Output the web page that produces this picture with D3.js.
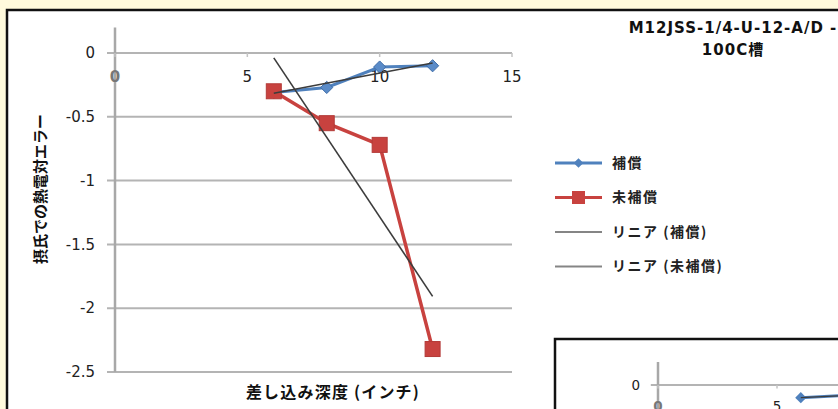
<!DOCTYPE html>
<meta charset="utf-8">
<script src="https://d3js.org/d3.v7.min.js"></script>
<style>
  body { margin: 0; background: #fffadc; }
  svg { display: block; }
</style>
<body>
<svg width="838" height="409"></svg>
<script>
// data
var depth = [6, 8, 10, 12];
var compensated = [-0.31, -0.27, -0.11, -0.10];
var uncompensated = [-0.30, -0.55, -0.72, -2.32];
var yTicks = [0, -0.5, -1, -1.5, -2, -2.5];
var xTicks = [0, 5, 10, 15];
var legendNames = ["補償", "未補償", "リニア (補償)", "リニア (未補償)"];
var titleLines = ["M12JSS-1/4-U-12-A/D -", "100C槽"];

// second chart, only its top-left corner shows
var insetDepth = [6, 8];
var insetComp = [-0.11, -0.09];
var insetYTicks = [0];
var insetXTicks = [0, 5];

var svg = d3.select("svg");
var blue = "#4f81bd", red = "#c8423f", trendCol = "#3c3c3c", grid = "#b4b4b4";
var diamond = d3.symbolDiamond2 || d3.symbolDiamond;

// outer frame
svg.append("rect").attr("x", 7).attr("y", 10).attr("width", 850).attr("height", 420)
  .attr("fill", "#fff").attr("stroke", "#111").attr("stroke-width", 2.5);

function fit(xs, ys) {
  var mx = d3.mean(xs), my = d3.mean(ys);
  var num = d3.sum(xs, function(x, i) { return (x - mx) * (ys[i] - my); });
  var den = d3.sum(xs, function(x) { return (x - mx) * (x - mx); });
  var b = num / den, a = my - b * mx;
  var x0 = d3.min(xs), x1 = d3.max(xs);
  return [[x0, a + b * x0], [x1, a + b * x1]];
}

function drawChart(g, opt) {
  var x = d3.scaleLinear().domain([0, 15]).range(opt.xr);
  var y = d3.scaleLinear().domain([-2.5, 0]).range(opt.yr);

  // gridlines
  g.selectAll(".grid").data(opt.yTicks).enter().append("line")
    .attr("x1", x(0) - opt.k * 8).attr("x2", x(15))
    .attr("y1", function(d) { return y(d); }).attr("y2", function(d) { return y(d); })
    .attr("stroke", grid).attr("stroke-width", 2);

  // vertical axis line
  g.append("line").attr("x1", x(0)).attr("x2", x(0))
    .attr("y1", y(0.2)).attr("y2", y(-2.5))
    .attr("stroke", "#a8a8a8").attr("stroke-width", 2.5);

  // x ticks on the zero line
  g.selectAll(".xt").data(opt.xTicks).enter().append("line")
    .attr("x1", function(d) { return x(d); }).attr("x2", function(d) { return x(d); })
    .attr("y1", y(0)).attr("y2", y(0) + 4 * opt.k)
    .attr("stroke", "#c4c4c4").attr("stroke-width", 1.5);

  g.selectAll(".xl").data(opt.xTicks).enter().append("text")
    .attr("x", function(d) { return x(d); }).attr("y", y(0) + 24 * opt.k)
    .attr("dy", "0.35em").attr("text-anchor", "middle")
    .attr("font-family", "DejaVu Sans").attr("font-size", 15 * opt.k)
    .attr("fill", function(d) { return d === 0 ? "#777" : "#222"; })
    .attr("font-weight", function(d) { return d === 0 ? "bold" : "normal"; })
    .text(function(d) { return d; });

  g.selectAll(".yl").data(opt.yTicks).enter().append("text")
    .attr("x", x(0) - 20 * opt.k).attr("y", function(d) { return y(d); })
    .attr("dy", "0.35em").attr("text-anchor", "end")
    .attr("font-family", "DejaVu Sans").attr("font-size", 15 * opt.k)
    .attr("fill", "#222")
    .text(function(d) { return d; });

  return {x: x, y: y};
}

// main chart
var main = svg.append("g");
var sc = drawChart(main, {xr: [115, 512], yr: [372, 53], k: 1, yTicks: yTicks, xTicks: xTicks});
var x = sc.x, y = sc.y;

var line = d3.line().x(function(d) { return x(d[0]); }).y(function(d) { return y(d[1]); });
var compPts = depth.map(function(d, i) { return [d, compensated[i]]; });
var uncPts = depth.map(function(d, i) { return [d, uncompensated[i]]; });

main.append("path").attr("d", line(compPts)).attr("fill", "none")
  .attr("stroke", blue).attr("stroke-width", 3);
main.selectAll(".dia").data(compPts).enter().append("path")
  .attr("d", d3.symbol().type(diamond).size(95))
  .attr("transform", function(d) { return "translate(" + x(d[0]) + "," + y(d[1]) + ")"; })
  .attr("fill", "#5a8bc8").attr("stroke", "#3d6ca8").attr("stroke-width", 1);

main.append("path").attr("d", line(uncPts)).attr("fill", "none")
  .attr("stroke", red).attr("stroke-width", 3.5);
main.selectAll(".sq").data(uncPts).enter().append("rect")
  .attr("x", function(d) { return x(d[0]) - 7.5; }).attr("y", function(d) { return y(d[1]) - 7.5; })
  .attr("width", 15).attr("height", 15)
  .attr("fill", red).attr("stroke", "#b33a37").attr("stroke-width", 1);

// linear trend lines
[fit(depth, compensated), fit(depth, uncompensated)].forEach(function(t) {
  main.append("path").attr("d", line(t)).attr("fill", "none")
    .attr("stroke", trendCol).attr("stroke-width", 1.6);
});

// axis titles
main.append("text").attr("transform", "translate(41," + 189 + ") rotate(-90)")
  .attr("text-anchor", "middle").attr("dy", "0.35em")
  .attr("font-family", "Noto Sans CJK JP").attr("font-weight", "bold").attr("font-size", 15)
  .attr("fill", "#111").text("摂氏での熱電対エラー");

main.append("text").attr("x", 333).attr("y", 392).attr("dy", "0.35em")
  .attr("text-anchor", "middle")
  .attr("font-family", "Noto Sans CJK JP").attr("font-weight", "bold").attr("font-size", 16)
  .attr("letter-spacing", 1.2)
  .attr("fill", "#111").text("差し込み深度 (インチ)");

// title
main.selectAll(".title").data(titleLines).enter().append("text")
  .attr("x", 733).attr("y", function(d, i) { return 28 + i * 22; }).attr("dy", "0.35em")
  .attr("text-anchor", "middle")
  .attr("font-family", "DejaVu Sans, Noto Sans CJK JP").attr("font-weight", "bold").attr("font-size", 15)
  .attr("letter-spacing", 1)
  .attr("fill", "#111").text(function(d) { return d; });

// legend
var lg = main.selectAll(".lg").data(legendNames).enter().append("g")
  .attr("transform", function(d, i) { return "translate(555," + (163 + i * 34.5) + ")"; });
lg.append("line").attr("x1", 0).attr("x2", 47)
  .attr("stroke", function(d, i) { return i === 0 ? blue : i === 1 ? red : "#858585"; })
  .attr("stroke-width", function(d, i) { return i < 2 ? 3 : 2; });
lg.filter(function(d, i) { return i === 0; }).append("path")
  .attr("transform", "translate(23.5,0)")
  .attr("d", d3.symbol().type(diamond).size(60)).attr("fill", blue);
lg.filter(function(d, i) { return i === 1; }).append("rect")
  .attr("x", 17).attr("y", -6.5).attr("width", 13).attr("height", 13).attr("fill", red);
lg.append("text").attr("x", 57).attr("dy", "0.35em")
  .attr("font-family", "Noto Sans CJK JP").attr("font-weight", "bold").attr("font-size", 14)
  .attr("letter-spacing", 1.5)
  .attr("fill", "#222").text(function(d) { return d; });

// inset chart frame
svg.append("rect").attr("x", 555).attr("y", 339).attr("width", 300).attr("height", 100)
  .attr("fill", "#fff").attr("stroke", "#111").attr("stroke-width", 2.5);
var inset = svg.append("g");
var isc = drawChart(inset, {xr: [658, 658 + 15 * 23.8], yr: [385 + 2.5 * 114.8, 385], k: 0.9,
  yTicks: insetYTicks, xTicks: insetXTicks});
var iline = d3.line().x(function(d) { return isc.x(d[0]); }).y(function(d) { return isc.y(d[1]); });
var insetPts = insetDepth.map(function(d, i) { return [d, insetComp[i]]; });
inset.append("path").attr("d", iline(insetPts)).attr("fill", "none")
  .attr("stroke", blue).attr("stroke-width", 3);
inset.selectAll(".dia").data(insetPts).enter().append("path")
  .attr("d", d3.symbol().type(diamond).size(80))
  .attr("transform", function(d) { return "translate(" + isc.x(d[0]) + "," + isc.y(d[1]) + ")"; })
  .attr("fill", blue);
inset.append("path").attr("d", iline(fit(insetDepth, insetComp))).attr("fill", "none")
  .attr("stroke", trendCol).attr("stroke-width", 1.4);
</script>
</body>
